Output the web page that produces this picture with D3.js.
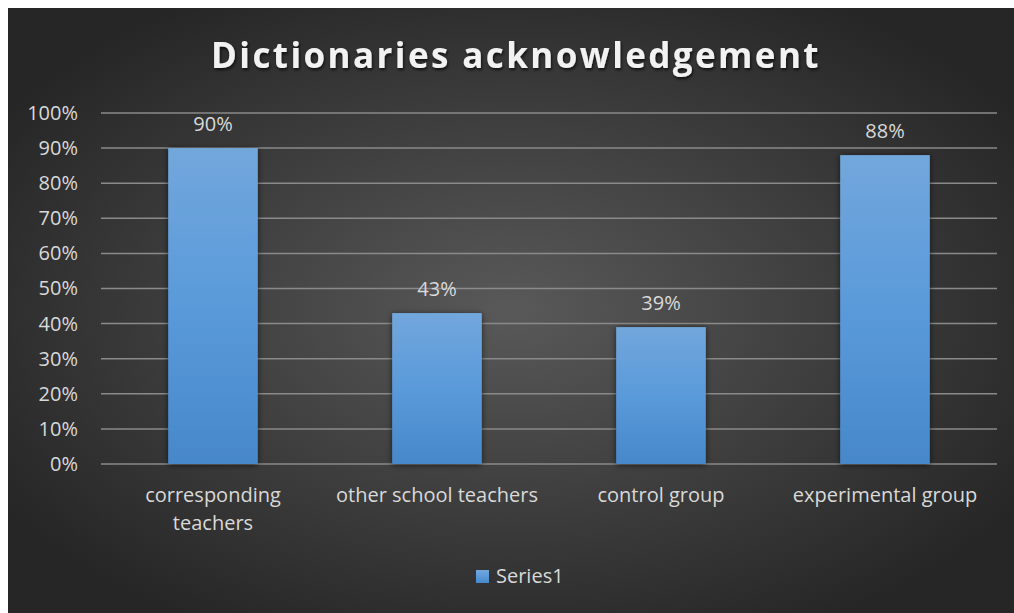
<!DOCTYPE html>
<html>
<head>
<meta charset="utf-8">
<script src="https://cdn.jsdelivr.net/npm/d3@7"></script>
<style>
  body { margin: 0; background: #fff; }
  svg text { font-family: "Open Sans", sans-serif; }
</style>
</head>
<body>
<svg id="chart"></svg>
<script>
// data
const categories = ["corresponding teachers", "other school teachers", "control group", "experimental group"];
const values = [0.90, 0.43, 0.39, 0.88];
const yTicks = [0, 0.1, 0.2, 0.3, 0.4, 0.5, 0.6, 0.7, 0.8, 0.9, 1.0];
const seriesName = "Series1";
const title = "Dictionaries acknowledgement";

const svgWidth = 1014, svgHeight = 613;
const margin = { top: 113, right: 17, bottom: 149, left: 101 };
const width = svgWidth - margin.left - margin.right;
const height = svgHeight - margin.top - margin.bottom;
const fontSize = 20;

const svg = d3.select("#chart")
  .attr("width", svgWidth)
  .attr("height", svgHeight);

const defs = svg.append("defs");

// background gradient
const bg = defs.append("radialGradient").attr("id", "bg")
  .attr("cx", "50%").attr("cy", "50%").attr("r", "60%");
bg.append("stop").attr("offset", "0%").attr("stop-color", "#595959");
bg.append("stop").attr("offset", "100%").attr("stop-color", "#262626");

// bar gradient
const barGrad = defs.append("linearGradient").attr("id", "barGrad")
  .attr("x1", 0).attr("y1", 0).attr("x2", 0).attr("y2", 1);
barGrad.append("stop").attr("offset", "0%").attr("stop-color", "#72a7dc");
barGrad.append("stop").attr("offset", "50%").attr("stop-color", "#5a9ada");
barGrad.append("stop").attr("offset", "100%").attr("stop-color", "#4688c9");

const shadow = defs.append("filter").attr("id", "shadow")
  .attr("x", "-20%").attr("y", "-20%").attr("width", "140%").attr("height", "140%");
shadow.append("feDropShadow").attr("dx", 0).attr("dy", 1).attr("stdDeviation", 3)
  .attr("flood-color", "#000").attr("flood-opacity", 0.6);

const tshadow = defs.append("filter").attr("id", "tshadow");
tshadow.append("feDropShadow").attr("dx", 1).attr("dy", 2).attr("stdDeviation", 1.5)
  .attr("flood-color", "#000").attr("flood-opacity", 0.7);

svg.append("rect")
  .attr("x", 8).attr("y", 8)
  .attr("width", svgWidth - 8).attr("height", svgHeight - 8)
  .attr("fill", "url(#bg)");

// title
svg.append("text")
  .attr("x", 516).attr("y", 68)
  .attr("text-anchor", "middle")
  .attr("fill", "#f2f2f2")
  .attr("font-size", 35)
  .attr("font-weight", "bold")
  .attr("letter-spacing", 2.4)
  .attr("filter", "url(#tshadow)")
  .text(title);

// scales
const xScale = d3.scaleBand()
  .domain(categories)
  .range([margin.left, margin.left + width])
  .paddingInner(0.6)
  .paddingOuter(0.3);

const yScale = d3.scaleLinear()
  .domain([0, 1])
  .range([margin.top + height, margin.top]);

// gridlines
svg.append("g")
  .selectAll("line")
  .data(yTicks)
  .enter().append("line")
  .attr("x1", margin.left)
  .attr("x2", margin.left + width)
  .attr("y1", d => yScale(d))
  .attr("y2", d => yScale(d))
  .attr("stroke", "#8a8a8a")
  .attr("stroke-width", 1.5);

// y axis labels
const yAxis = d3.axisLeft(yScale)
  .tickValues(yTicks)
  .tickFormat(d3.format(".0%"))
  .tickSize(0)
  .tickPadding(23);

const yg = svg.append("g")
  .attr("transform", `translate(${margin.left},0)`)
  .call(yAxis);
yg.select(".domain").remove();
yg.selectAll("text")
  .attr("fill", "#d9d9d9")
  .attr("font-size", fontSize)
  .style("font-family", "'Open Sans', sans-serif");

// bars
svg.append("g")
  .selectAll("rect")
  .data(values)
  .enter().append("rect")
  .attr("x", (d, i) => xScale(categories[i]))
  .attr("y", d => yScale(d))
  .attr("width", xScale.bandwidth())
  .attr("height", d => yScale(0) - yScale(d))
  .attr("fill", "url(#barGrad)")
  .attr("filter", "url(#shadow)");

// value labels
svg.append("g")
  .selectAll("text")
  .data(values)
  .enter().append("text")
  .attr("x", (d, i) => xScale(categories[i]) + xScale.bandwidth() / 2)
  .attr("y", d => yScale(d) - 17)
  .attr("text-anchor", "middle")
  .attr("fill", "#d9d9d9")
  .attr("font-size", fontSize)
  .text(d => d3.format(".0%")(d));

// category labels (wrap the long first one like the reference)
const xLabels = svg.append("g")
  .selectAll("text")
  .data(categories)
  .enter().append("text")
  .attr("x", d => xScale(d) + xScale.bandwidth() / 2)
  .attr("y", yScale(0) + 38)
  .attr("text-anchor", "middle")
  .attr("fill", "#d9d9d9")
  .attr("font-size", fontSize);

xLabels.each(function(d) {
  const lines = d === "corresponding teachers" ? ["corresponding", "teachers"] : [d];
  const t = d3.select(this);
  const x = t.attr("x");
  lines.forEach((ln, i) => {
    t.append("tspan").attr("x", x).attr("dy", i === 0 ? 0 : 28).text(ln);
  });
});

// legend
const legend = svg.append("g").attr("transform", "translate(476,570)");
legend.append("rect")
  .attr("width", 13).attr("height", 13)
  .attr("fill", "url(#barGrad)");
legend.append("text")
  .attr("x", 20).attr("y", 13)
  .attr("fill", "#d9d9d9")
  .attr("font-size", fontSize)
  .text(seriesName);
</script>
</body>
</html>
